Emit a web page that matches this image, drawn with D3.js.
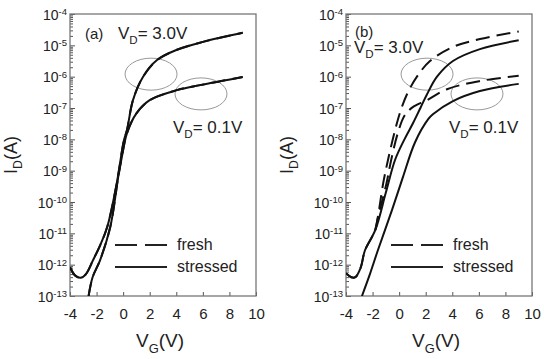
<!DOCTYPE html>
<html>
<head>
<meta charset="utf-8">
<script src="https://cdn.jsdelivr.net/npm/d3@7"></script>
<style>
  body { margin: 0; background: #fff; }
  text { font-family: "Liberation Sans", Arial, sans-serif; fill: #222; }
</style>
</head>
<body>
<svg id="chart" width="544" height="359"></svg>
<script>
// gate voltage V_G (V) and log10 of drain current I_D (A)

// panel (a): fresh and stressed lie on top of each other
var aV3   = [-4, -3.6, -3.2, -2.8, -2.27, -1.7, -1.2, -0.5, 0.06, 0.29, 0.74, 1.49, 2.55, 4, 6, 9];
var aLog3 = [-12.08, -12.35, -12.42, -12.3, -11.86, -11.35, -10.8, -9.45, -8.03, -7.7, -6.75, -6.01, -5.47, -5.15, -4.89, -4.6];
var aV01   = [-2.6, -2.3, -1.74, -0.97, -0.37, -0.1, 0.29, 1.0, 2.0, 4.05, 5.8, 9];
var aLog01 = [-13.0, -12.4, -11.86, -10.8, -9.2, -8.57, -7.8, -7.17, -6.75, -6.43, -6.27, -6.01];

// panel (b): fresh (dashed) vs stressed (solid)
var bFreshV3   = [-4, -3.6, -3.3, -2.9, -2.57, -1.8, -1.6, -1.2, -0.84, -0.31, 0.1, 0.59, 1.34, 2.32, 4.05, 6.08, 9];
var bFreshLog3 = [-12.27, -12.4, -12.4, -12.1, -11.54, -10.9, -10.48, -9.4, -8.66, -7.71, -7.1, -6.56, -6.0, -5.5, -5.05, -4.8, -4.56];
var bFreshV01   = [-1.8, -1.6, -0.95, -0.6, -0.1, 0.4, 1.0, 2.1, 3.6, 6.08, 9];
var bFreshLog01 = [-10.9, -10.5, -9.4, -8.66, -7.8, -7.25, -6.98, -6.75, -6.4, -6.14, -5.97];
var bStressV3   = [-4, -3.6, -3.3, -2.9, -2.57, -1.8, -1.0, -0.31, 0.4, 1.05, 1.6, 2.1, 2.85, 4.05, 6.08, 9];
var bStressLog3 = [-12.27, -12.4, -12.4, -12.1, -11.54, -10.9, -9.7, -8.66, -8.0, -7.48, -7.0, -6.56, -6.0, -5.5, -5.12, -4.84];
var bStressV01   = [-2.8, -2.2, -1.6, -0.54, 0.29, 1.19, 2.2, 2.54, 4.05, 6.08, 9];
var bStressLog01 = [-13.0, -12.3, -11.54, -10.26, -9.2, -8.1, -7.35, -7.2, -6.78, -6.46, -6.23];

// ellipse annotations (centre V_G, centre log10 I_D)
var ringV   = [2.1, 5.86];
var ringLog = [-5.92, -6.55];

var vgTicks = [-4, -2, 0, 2, 4, 6, 8, 10];
var decades = [-13, -12, -11, -10, -9, -8, -7, -6, -5, -4];

var svg = d3.select("#chart");
var w = 186, h = 282;

function pts(vs, ls) {
  return vs.map(function(v, i) { return [v, Math.pow(10, ls[i])]; });
}

function sub(sel, main, s, tail, size) {
  sel.append("tspan").text(main);
  sel.append("tspan").attr("dy", size * 0.3).attr("font-size", size * 0.68).text(s);
  sel.append("tspan").attr("dy", -size * 0.3).text(tail);
}

function panel(left, name, curves, t) {
  var g = svg.append("g").attr("transform", "translate(" + left + ",14)");

  var x = d3.scaleLinear().domain([-4, 10]).range([0, w]);
  var y = d3.scaleLog().domain([1e-13, 1e-4]).range([h, 0]);

  // minor log ticks
  var minor = [];
  decades.slice(0, -1).forEach(function(d) {
    for (var k = 2; k < 10; k++) minor.push(k * Math.pow(10, d));
  });
  g.append("g").attr("class", "minor")
      .call(d3.axisLeft(y).tickValues(minor).tickSize(-3).tickFormat(""));

  var yAxis = g.append("g")
      .call(d3.axisLeft(y).tickValues(decades.map(function(d) { return Math.pow(10, d); }))
        .tickSizeInner(-5).tickSizeOuter(0).tickPadding(3).tickFormat(""));
  yAxis.selectAll(".tick text").each(function(d) {
    var e = d3.select(this).attr("font-size", 14).attr("dy", "0.38em");
    e.append("tspan").text("10");
    e.append("tspan").attr("dy", "-0.5em").attr("font-size", 9.5)
        .text("-" + Math.round(-Math.log10(d)));
  });

  var xAxis = g.append("g").attr("transform", "translate(0," + h + ")")
      .call(d3.axisBottom(x).tickValues(vgTicks).tickSizeInner(-4).tickSizeOuter(0).tickPadding(12)
        .tickFormat(function(d) { return String(d); }));
  xAxis.selectAll(".tick text").attr("font-size", 15);

  g.selectAll(".domain").remove();
  g.selectAll(".tick line").attr("stroke", "#555");
  g.selectAll(".tick text").attr("fill", "#222");

  g.append("rect").attr("width", w).attr("height", h)
      .attr("fill", "none").attr("stroke", "#777").attr("stroke-width", 1.3);

  // ellipses
  g.selectAll("ellipse").data(ringV).enter().append("ellipse")
      .attr("cx", function(d) { return x(d); })
      .attr("cy", function(d, i) { return y(Math.pow(10, ringLog[i])); })
      .attr("rx", 26).attr("ry", 16)
      .attr("fill", "none").attr("stroke", "#999").attr("stroke-width", 1);

  var line = d3.line().x(function(d) { return x(d[0]); }).y(function(d) { return y(d[1]); })
      .curve(d3.curveCatmullRom.alpha(0.5));

  g.append("clipPath").attr("id", "clip" + name)
    .append("rect").attr("width", w).attr("height", h);

  g.append("g").attr("clip-path", "url(#clip" + name + ")")
    .selectAll("path").data(curves).enter().append("path")
      .attr("d", function(d) { return line(d.p); })
      .attr("fill", "none").attr("stroke", "#111").attr("stroke-width", 2)
      .attr("stroke-dasharray", function(d) { return d.dash ? "14,7" : null; });

  // labels
  g.append("text").attr("x", t.lx).attr("y", t.ly).attr("font-size", 15).text("(" + name + ")");
  sub(g.append("text").attr("x", t.v3x).attr("y", t.v3y).attr("font-size", 17), "V", "D", "= 3.0V", 17);
  sub(g.append("text").attr("x", 103).attr("y", 119).attr("font-size", 17), "V", "D", "= 0.1V", 17);

  // legend
  g.append("line").attr("x1", 45).attr("x2", 97).attr("y1", 231).attr("y2", 231)
      .attr("stroke", "#222").attr("stroke-width", 2).attr("stroke-dasharray", "22,8");
  g.append("line").attr("x1", 45).attr("x2", 97).attr("y1", 253).attr("y2", 253)
      .attr("stroke", "#222").attr("stroke-width", 2);
  g.append("text").attr("x", 107).attr("y", 236).attr("font-size", 16).text("fresh");
  g.append("text").attr("x", 107).attr("y", 258).attr("font-size", 16).text("stressed");

  // axis titles
  sub(g.append("text").attr("text-anchor", "middle")
      .attr("transform", "translate(" + (-53) + ",141) rotate(-90)").attr("font-size", 18), "I", "D", "(A)", 18);
  sub(g.append("text").attr("text-anchor", "middle")
      .attr("x", 90).attr("y", 333).attr("font-size", 19), "V", "G", "(V)", 19);
}

panel(70, "a", [
  { p: pts(aV3, aLog3), dash: true },
  { p: pts(aV01, aLog01), dash: true },
  { p: pts(aV3, aLog3), dash: false },
  { p: pts(aV01, aLog01), dash: false }
], { lx: 15, ly: 25, v3x: 48, v3y: 25 });

panel(346, "b", [
  { p: pts(bFreshV3, bFreshLog3), dash: true },
  { p: pts(bFreshV01, bFreshLog01), dash: true },
  { p: pts(bStressV3, bStressLog3), dash: false },
  { p: pts(bStressV01, bStressLog01), dash: false }
], { lx: 9, ly: 23, v3x: 8, v3y: 39 });
</script>
</body>
</html>
